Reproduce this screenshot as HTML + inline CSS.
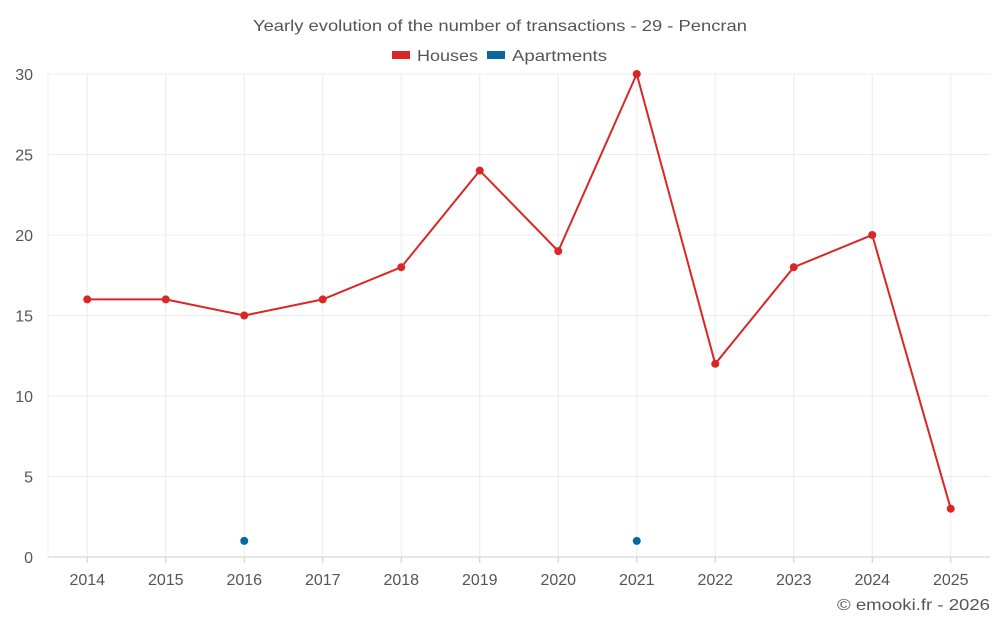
<!DOCTYPE html>
<html><head><meta charset="utf-8">
<style>
body{margin:0;background:#fff;font-family:"Liberation Sans",sans-serif;}
svg text{font-family:"Liberation Sans",sans-serif;}
</style></head>
<body>
<svg id="chart" width="1000" height="625">
<text x="253" y="31" textLength="494" lengthAdjust="spacingAndGlyphs" font-size="16" fill="#555">Yearly evolution of the number of transactions - 29 - Pencran</text>
<g>
<g><rect x="392" y="51" width="18" height="8" fill="#dc2626"/><text x="417" y="61" textLength="61" lengthAdjust="spacingAndGlyphs" font-size="16" fill="#555">Houses</text></g>
<g><rect x="487" y="51" width="18" height="8" fill="#0b65a0"/><text x="512" y="61" textLength="95" lengthAdjust="spacingAndGlyphs" font-size="16" fill="#555">Apartments</text></g>
</g>
<g id="grid"></g><g id="axes"></g><g id="series"></g>
<text x="837" y="610" textLength="153" lengthAdjust="spacingAndGlyphs" font-size="16" fill="#555">© emooki.fr - 2026</text>
</svg>
<script>
const categories=["2014","2015","2016","2017","2018","2019","2020","2021","2022","2023","2024","2025"];
const houses=[16,16,15,16,18,24,19,30,12,18,20,3];
const apartments=[null,null,1,null,null,null,null,1,null,null,null,null];
const yTicks=[0,5,10,15,20,25,30];
const L=48,R=990,T=74,B=557,yMax=30;
const bw=(R-L)/categories.length;
const x=i=>L+bw*(i+0.5);
const y=v=>B-(v/yMax)*(B-T);
const NS="http://www.w3.org/2000/svg";
function mk(tag,attrs,parent){const e=document.createElementNS(NS,tag);for(const k in attrs)e.setAttribute(k,attrs[k]);parent.appendChild(e);return e;}
const grid=document.getElementById('grid'),axes=document.getElementById('axes'),ser=document.getElementById('series');
yTicks.forEach(t=>{
 const l=mk('line',{x1:L,x2:R,y1:y(t),y2:y(t),stroke:t===0?'#ccc':'#ececec','stroke-width':1},grid);
 
 
 const tx=mk('text',{x:33,y:y(t)+6,'text-anchor':'end','font-size':16,fill:'#555'},axes);
 tx.textContent=t;
 
 
});
const lv=mk('line',{x1:L,x2:L,y1:T,y2:B,stroke:'#ececec'},grid);


categories.forEach((c,i)=>{
 const l=mk('line',{x1:x(i),x2:x(i),y1:T,y2:B,stroke:'#ececec'},grid);
 
 
 const tk=mk('line',{x1:x(i),x2:x(i),y1:B,y2:B+6,stroke:'#ccc'},axes);
 
 
 const tx=mk('text',{x:x(i),y:585,'text-anchor':'middle','font-size':16,fill:'#555'},axes);
 tx.textContent=c;
 
 
});
const pts=houses.map((v,i)=>x(i)+','+y(v)).join(' ');
const pl=mk('polyline',{points:pts,fill:'none',stroke:'#dc2626','stroke-width':2},ser);


houses.forEach((v,i)=>{
 const c=mk('circle',{cx:x(i),cy:y(v),r:4,fill:'#dc2626'},ser);
 
 
});
apartments.forEach((v,i)=>{
 if(v===null)return;
 const c=mk('circle',{cx:x(i),cy:y(v),r:4,fill:'#0b65a0'},ser);
 
 
});
</script>
</body></html>
